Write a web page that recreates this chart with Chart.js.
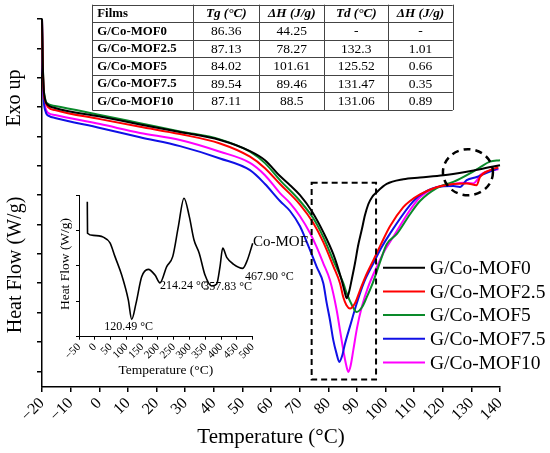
<!DOCTYPE html>
<html><head><meta charset="utf-8">
<script src="https://cdn.jsdelivr.net/npm/chart.js@4.4.0/dist/chart.umd.min.js"></script>
<style>
html,body{margin:0;padding:0;background:#fff;}
#wrap{position:relative;width:550px;height:453px;overflow:hidden;}
#main{position:absolute;left:0;top:0;width:550px;height:453px;}
#inset{position:absolute;left:50px;top:185px;width:270px;height:200px;}
</style></head><body>
<div id="wrap"><canvas id="main" width="550" height="453"></canvas><canvas id="inset" width="270" height="200"></canvas></div>
<script>
// ---------- data ----------
const seriesNames = ['G/Co-MOF0','G/Co-MOF2.5','G/Co-MOF5','G/Co-MOF7.5','G/Co-MOF10'];
const seriesColors = ['#000000','#ff0000','#0a8a2a','#1010e6','#ff00ff'];

const mof0T = [-20,-19.79,-19.48,-18.95,-17.90,-15.46,0.26,14.24,28.21,42.18,52.66,57.90,63.14,66.64,70.13,74.22,78.27,81.76,84.70,85.68,86.44,87.24,88.29,89.34,90.39,91.68,92.84,93.99,95.28,96.92,100.42,106.21,112.05,120.19,128.36,133.01,140];
const mof0H = [12.00,10.77,9.75,9.27,9.07,8.97,8.68,8.41,8.15,7.88,7.50,7.19,6.65,6.34,6.00,5.46,4.74,3.99,3.10,2.73,2.49,2.69,3.17,3.68,4.26,4.81,5.32,5.69,5.93,6.10,6.38,6.54,6.60,6.68,6.80,6.88,7.02];

const mof25T = [-20,-19.79,-19.48,-18.78,-17.80,-15.46,0.26,14.24,28.21,42.18,52.66,57.90,63.14,70.13,74.78,78.27,81.76,84.10,85.26,86.37,87.59,89.34,91.09,93.18,95.73,98.43,101.57,106.21,108.56,112.05,117.88,123.69,128.36,131.86,133.01,136.50,139.41];
const mof25H = [12.00,10.74,9.65,9.17,8.99,8.90,8.59,8.33,8.08,7.76,7.31,6.92,6.38,5.68,5.05,4.40,3.58,3.00,2.52,2.25,2.14,2.32,2.76,3.27,3.78,4.33,4.94,5.59,5.80,6.03,6.27,6.38,6.40,6.34,6.62,6.85,6.95];

const mof5T = [-20,-19.79,-19.48,-19.02,-18.36,-15.46,0.26,14.24,28.21,42.18,52.66,57.90,63.14,70.13,74.78,78.27,81.76,85.26,86.44,88.29,89.94,91.79,93.43,95.63,98.08,100.42,103.91,108.56,112.05,117.88,121.38,123.69,129.51,133.01,136.50,140];
const mof5H = [12.00,10.77,9.75,9.34,9.14,9.04,8.73,8.45,8.17,7.90,7.48,7.09,6.51,5.80,5.21,4.57,3.78,3.00,2.66,2.25,2.02,2.18,2.52,3.03,3.72,4.33,4.67,5.35,5.80,6.24,6.38,6.45,6.74,6.95,7.14,7.19];

const mof75T = [-20,-19.79,-19.48,-18.78,-17.45,-15.46,0.26,14.24,28.21,42.18,52.66,57.90,63.14,66.64,70.13,72.47,75.96,78.27,79.46,80.61,81.76,82.88,83.86,84.80,85.85,87.59,89.94,92.49,95.73,98.43,101.57,108.56,112.05,117.88,123.69,126.03,128.36,131.86,135.35,139.41];
const mof75H = [12.00,10.67,9.41,8.86,8.69,8.63,8.29,7.97,7.67,7.25,6.85,6.38,5.80,5.46,4.94,4.41,3.56,3.00,2.32,1.74,1.06,0.61,0.32,0.51,0.94,1.53,2.31,3.03,3.67,4.19,4.69,5.66,6.00,6.27,6.31,6.28,6.51,6.62,6.76,6.91];

const mof10T = [-20,-19.79,-19.48,-18.78,-17.80,-15.46,0.26,14.24,28.21,42.18,52.66,57.90,63.14,66.64,70.13,73.62,75.96,78.27,80.61,82.95,84.10,85.26,86.20,87.00,87.77,88.75,90.04,91.68,93.88,96.92,99.82,102.72,108.56,112.05,117.88,123.69,127.18,130.67,131.96,133.01,135.35,139.41];
const mof10H = [12.00,10.71,9.51,8.97,8.80,8.73,8.42,8.12,7.88,7.48,7.10,6.68,6.07,5.73,5.28,4.71,4.23,3.68,3.10,2.08,1.40,0.72,0.24,-0.02,0.17,0.72,1.47,2.18,2.86,3.55,4.13,4.58,5.49,5.93,6.27,6.38,6.42,6.40,6.51,6.68,6.80,6.88];

const xTickLabels = ['\u221220','\u221210','0','10','20','30','40','50','60','70','80','90','100','110','120','130','140'];

// inset (pure Co-MOF)
const coMofT = [-23.7,-23.0,-4.7,26.9,48.2,64.0,85.2,106.1,116.9,130.5,148.5,169.4,190.7,206.5,227.7,246.7,264.4,282.5,299.3,314.2,330.9,349.0,370.2,386.0,396.5,405.0,417.7,438.6,468.4,482.9,500.0];
const coMofH = [3.81,2.92,2.86,2.81,2.65,2.26,1.74,1.04,0.49,0.94,1.69,1.90,1.74,1.52,1.98,2.26,3.10,3.91,3.39,2.73,2.35,1.74,1.43,1.49,1.98,2.50,2.24,2.05,1.93,2.16,2.64];
const insetTickLabels = ['\u221250','0','50','100','150','200','250','300','350','400','450','500'];
const insetPeakLabels = ['120.49 \u00B0C','214.24 \u00B0C','357.83 \u00B0C','467.90 \u00B0C'];

// table
const tableHeader = ['Films','Tg (\u00B0C)','\u0394H (J/g)','Td (\u00B0C)','\u0394H (J/g)'];
const tableFilms = ['G/Co-MOF0','G/Co-MOF2.5','G/Co-MOF5','G/Co-MOF7.5','G/Co-MOF10'];
const tableTg = ['86.36','87.13','84.02','89.54','87.11'];
const tableDH1 = ['44.25','78.27','101.61','89.46','88.5'];
const tableTd = ['-','132.3','125.52','131.47','131.06'];
const tableDH2 = ['-','1.01','0.66','0.35','0.89'];

// ---------- drawing ----------
const SERIF = "'Liberation Serif','Times New Roman',serif";
const seriesT = [mof0T, mof25T, mof5T, mof75T, mof10T];
const seriesH = [mof0H, mof25H, mof5H, mof75H, mof10H];

const datasets = seriesNames.map((name, k) => ({
  label: name,
  data: seriesT[k].map((t, i) => ({x: t, y: seriesH[k][i]})),
  borderColor: seriesColors[k],
  borderWidth: 2,
  pointRadius: 0,
  fill: false,
  cubicInterpolationMode: 'monotone',
  clip: 4
}));

const mainDecor = {
  id: 'mainDecor',
  afterDraw(chart) {
    const {ctx} = chart;
    const x = chart.scales.x, y = chart.scales.y;
    ctx.save();
    // dashed rectangle around the glass-transition region
    ctx.strokeStyle = '#000';
    ctx.lineWidth = 2;
    ctx.setLineDash([6, 4]);
    const rx1 = x.getPixelForValue(74.2), rx2 = x.getPixelForValue(96.7);
    const ry1 = y.getPixelForValue(6.42), ry2 = y.getPixelForValue(-0.28);
    ctx.strokeRect(rx1, ry1, rx2 - rx1, ry2 - ry1);
    // dashed circle
    ctx.lineWidth = 2.5;
    ctx.setLineDash([7, 5]);
    ctx.beginPath();
    ctx.ellipse(x.getPixelForValue(128.8), y.getPixelForValue(6.78), 25, 23, 0, 0, Math.PI * 2);
    ctx.stroke();
    ctx.setLineDash([]);

    // axis titles
    ctx.fillStyle = '#000';
    ctx.textAlign = 'center';
    ctx.textBaseline = 'middle';
    ctx.font = '21px ' + SERIF;
    ctx.fillText('Temperature (\u00B0C)', (chart.chartArea.left + chart.chartArea.right) / 2, 437);
    ctx.font = '20px ' + SERIF;
    ctx.save(); ctx.translate(16, 265); ctx.rotate(-Math.PI / 2); ctx.fillText('Heat Flow (W/g)', 0, 0); ctx.restore();
    ctx.save(); ctx.translate(15, 98); ctx.rotate(-Math.PI / 2); ctx.fillText('Exo up', 0, 0); ctx.restore();

    // legend
    ctx.textAlign = 'left';
    ctx.font = '19.5px ' + SERIF;
    seriesNames.forEach((n, k) => {
      const ly = 267.7 + k * 23.7;
      ctx.strokeStyle = seriesColors[k];
      ctx.lineWidth = 2;
      ctx.beginPath(); ctx.moveTo(383, ly); ctx.lineTo(425, ly); ctx.stroke();
      ctx.fillStyle = '#000';
      ctx.fillText(n, 430, ly + 1);
    });

    // table
    const cols = [92.3, 193.3, 259.3, 324.3, 388.3, 452.7];
    const top = 4.7, rowH = 17.55, nRows = 6;
    ctx.fillStyle = '#fff';
    ctx.fillRect(cols[0], top, cols[5] - cols[0], rowH * nRows);
    ctx.strokeStyle = '#444';
    ctx.lineWidth = 1;
    for (let r = 0; r <= nRows; r++) {
      const yy = Math.round(top + r * rowH) + 0.5;
      ctx.beginPath(); ctx.moveTo(cols[0], yy); ctx.lineTo(cols[5], yy); ctx.stroke();
    }
    cols.forEach(cx => {
      const xx = Math.round(cx) + 0.5;
      ctx.beginPath(); ctx.moveTo(xx, top); ctx.lineTo(xx, top + rowH * nRows); ctx.stroke();
    });
    ctx.fillStyle = '#000';
    ctx.textBaseline = 'middle';
    const rowsData = [tableFilms, tableTg, tableDH1, tableTd, tableDH2];
    for (let c = 0; c < 5; c++) {
      const cyH = top + rowH / 2 + 0.5;
      if (c === 0) { ctx.textAlign = 'left'; ctx.font = 'bold 12.8px ' + SERIF; ctx.fillText(tableHeader[c], cols[0] + 5, cyH); }
      else { ctx.textAlign = 'center'; ctx.font = 'italic bold 13.2px ' + SERIF; ctx.fillText(tableHeader[c], (cols[c] + cols[c + 1]) / 2, cyH); }
      for (let r = 0; r < 5; r++) {
        const cy = top + (r + 1.5) * rowH + 0.5;
        if (c === 0) { ctx.textAlign = 'left'; ctx.font = 'bold 12.8px ' + SERIF; ctx.fillText(rowsData[0][r], cols[0] + 5, cy); }
        else { ctx.textAlign = 'center'; ctx.font = '13.5px ' + SERIF; ctx.fillText(rowsData[c][r], (cols[c] + cols[c + 1]) / 2, cy); }
      }
    }
    ctx.restore();
  }
};

new Chart(document.getElementById('main'), {
  type: 'line',
  data: { datasets },
  options: {
    responsive: false, animation: false, devicePixelRatio: 1,
    layout: { padding: { top: 19, right: 50, left: 0, bottom: 0 } },
    scales: {
      x: {
        type: 'linear', min: -20, max: 140,
        ticks: { stepSize: 10, autoSkip: false, minRotation: 45, maxRotation: 45, padding: 2,
          font: { family: SERIF, size: 16 }, color: '#000',
          callback: (v, i) => xTickLabels[i] },
        grid: { display: true, drawOnChartArea: false, drawTicks: true, tickLength: 5, color: '#000', lineWidth: 1.5 },
        border: { display: true, color: '#000', width: 1.5 },
        afterFit: s => { s.height = 66; }
      },
      y: {
        type: 'linear', min: -0.535, max: 12,
        ticks: { display: false, stepSize: 1, includeBounds: false },
        grid: { display: true, drawOnChartArea: false, drawTicks: true, tickLength: 5, color: '#000', lineWidth: 1.5 },
        border: { display: true, color: '#000', width: 1.5 },
        afterFit: s => { s.width = 42; }
      }
    },
    plugins: { legend: { display: false }, tooltip: { enabled: false } }
  },
  plugins: [mainDecor]
});

// ---------- inset ----------
const insetDecor = {
  id: 'insetDecor',
  afterDraw(chart) {
    const {ctx} = chart;
    ctx.save();
    ctx.fillStyle = '#000';
    ctx.textBaseline = 'middle';
    ctx.textAlign = 'center';
    ctx.font = '13.5px ' + SERIF;
    ctx.fillText('Temperature (\u00B0C)', (chart.chartArea.left + chart.chartArea.right) / 2, 185.7);
    ctx.save(); ctx.translate(15, 79); ctx.rotate(-Math.PI / 2); ctx.fillText('Heat Flow (W/g)', 0, 0); ctx.restore();
    ctx.font = '15px ' + SERIF;
    ctx.textAlign = 'left';
    ctx.fillText('Co-MOF', 203, 57);
    ctx.font = '12px ' + SERIF;
    ctx.textAlign = 'center';
    ctx.fillText(insetPeakLabels[0], 78.7, 141.7);
    ctx.textAlign = 'left';
    ctx.fillText(insetPeakLabels[1], 110, 101);
    ctx.fillText(insetPeakLabels[2], 153.3, 101.7);
    ctx.fillText(insetPeakLabels[3], 195, 92);
    ctx.restore();
  }
};

new Chart(document.getElementById('inset'), {
  type: 'line',
  data: { datasets: [{
    label: 'Co-MOF',
    data: coMofT.map((t, i) => ({x: t, y: coMofH[i]})),
    borderColor: '#000', borderWidth: 1.6, pointRadius: 0, fill: false,
    cubicInterpolationMode: 'monotone', clip: 4
  }] },
  options: {
    responsive: false, animation: false, devicePixelRatio: 1,
    layout: { padding: { top: 10, right: 67.3, left: 0, bottom: 0 } },
    scales: {
      x: {
        type: 'linear', min: -50, max: 500,
        ticks: { stepSize: 50, autoSkip: false, minRotation: 45, maxRotation: 45, padding: 1,
          font: { family: SERIF, size: 11 }, color: '#000',
          callback: (v, i) => insetTickLabels[i] },
        grid: { display: true, drawOnChartArea: false, drawTicks: true, tickLength: 3, color: '#000', lineWidth: 1 },
        border: { display: true, color: '#000', width: 1 },
        afterFit: s => { s.height = 48.3; }
      },
      y: {
        type: 'linear', min: 0, max: 4,
        ticks: { display: false, stepSize: 1 },
        grid: { display: true, drawOnChartArea: false, drawTicks: true, tickLength: 3, color: '#000', lineWidth: 1 },
        border: { display: true, color: '#000', width: 1 },
        afterFit: s => { s.width = 29; }
      }
    },
    plugins: { legend: { display: false }, tooltip: { enabled: false } }
  },
  plugins: [insetDecor]
});
</script></body></html>
